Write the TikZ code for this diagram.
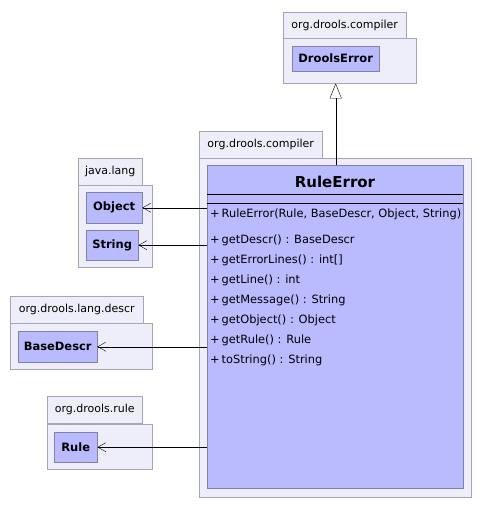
\documentclass[tikz,border=0pt]{standalone}
\usepackage{fontspec}
\setmainfont{DejaVu Sans}
\usetikzlibrary{arrows.meta}

\definecolor{pkgfill}{RGB}{238,238,250}
\definecolor{pkgdraw}{RGB}{165,165,185}
\definecolor{clsfill}{RGB}{186,186,255}
\definecolor{clsdraw}{RGB}{130,130,165}

\begin{document}
\begin{tikzpicture}[x=1pt,y=-1pt]

\def\tabh{27pt}
\def\opsep{20}

\tikzstyle{ptab} = [anchor=north west,draw=pkgdraw,fill=pkgfill,inner sep=0pt,minimum height=\tabh,font=\fontsize{11}{12}\selectfont];
\tikzstyle{pbody} = [anchor=north west,draw=pkgdraw,fill=pkgfill,inner sep=0pt];
\tikzstyle{cnode} = [anchor=north west,draw=clsdraw,fill=clsfill,inner sep=0pt,font=\fontsize{11.5}{12}\selectfont\bfseries];
\tikzstyle{onode} = [anchor=west,inner sep=0pt,font=\fontsize{11.4}{14}\selectfont];
\tikzstyle{dep} = [-{Straight Barb[length=8pt,width=9pt]}];
\tikzstyle{gen} = [-{Triangle[open,length=15pt,width=12pt]}];

\useasboundingbox [fill=white] (0,0) rectangle (481,509);

% org.drools.compiler (super class)
\node [ptab,minimum width=123pt] (ctab) at (283,12) {org.drools.compiler};
\node [pbody,minimum width=133pt,minimum height=45pt] (cbody) at (283,38) {};
\node [cnode,minimum width=87pt,minimum height=25pt] (drools) at (292,46) {DroolsError};

% java.lang
\node [ptab,minimum width=64pt] (jtab) at (78,158) {java.lang};
\node [pbody,minimum width=74pt,minimum height=82pt] (jbody) at (78,185) {};
\node [cnode,minimum width=56pt,minimum height=31pt] (obj) at (86,192) {Object};
\node [cnode,minimum width=52pt,minimum height=30pt] (str) at (86,230) {String};

% org.drools.lang.descr
\node [ptab,minimum width=133pt] (dtab) at (10,296) {org.drools.lang.descr};
\node [pbody,minimum width=142pt,minimum height=46pt] (dbody) at (10,323) {};
\node [cnode,minimum width=79pt,minimum height=31pt] (descr) at (18,331) {BaseDescr};

% org.drools.rule
\node [ptab,minimum width=95pt] (rtab) at (47,396) {org.drools.rule};
\node [pbody,minimum width=105pt,minimum height=45pt] (rbody) at (47,424) {};
\node [cnode,minimum width=43pt,minimum height=30pt] (rul) at (54,432) {Rule};

% org.drools.compiler (RuleError)
\node [ptab,minimum width=123pt] (etab) at (199,131) {org.drools.compiler};
\node [pbody,minimum width=272pt,minimum height=339pt] (ebody) at (199,158) {};
\node [cnode,minimum width=256pt,minimum height=323pt] (rule) at (207,165) {};
\node [font=\fontsize{15}{17}\selectfont\bfseries] (title) at (335,182) {RuleError};
\draw (rule.west |- 0,194) -- (rule.east |- 0,194);
\draw (rule.west |- 0,203) -- (rule.east |- 0,203);

\node [onode] (op0) at (210,214) {+\,RuleError(Rule, BaseDescr, Object, String)};
\foreach \op [count=\i] in {getDescr() : BaseDescr, getErrorLines() : int[], getLine() : int,
  getMessage() : String, getObject() : Object, getRule() : Rule, toString() : String}
  \node [onode] (op\i) at (210,{220+\i*\opsep}) {+\,\op};

% connectors
\draw [gen] (rule.north -| drools.south) -- (drools.south |- cbody.south);
\draw [dep] (rule.west |- obj.east) -- (obj.east);
\draw [dep] (rule.west |- str.east) -- (str.east);
\draw [dep] (rule.west |- descr.east) -- (descr.east);
\draw [dep] (rule.west |- rul.east) -- (rul.east);

\end{tikzpicture}
\end{document}
